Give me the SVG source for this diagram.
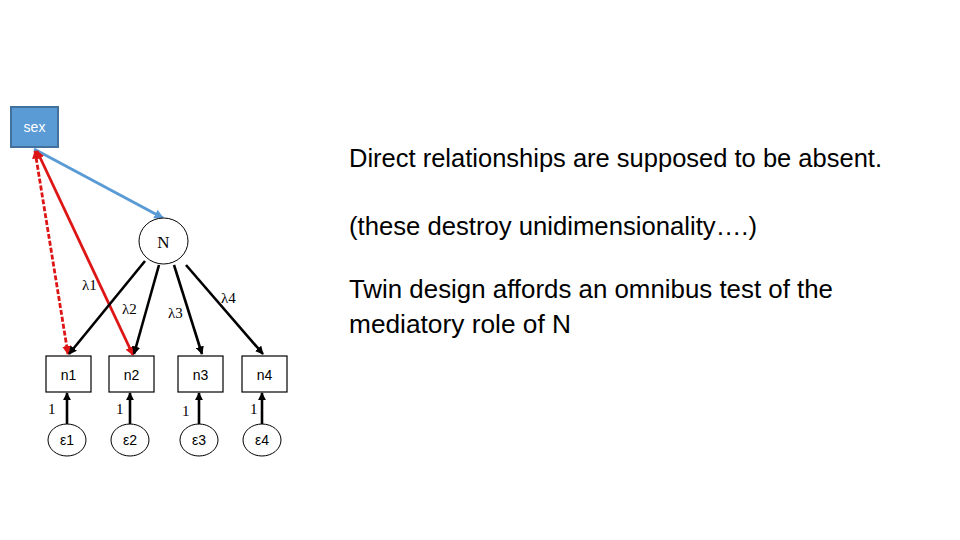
<svg xmlns="http://www.w3.org/2000/svg" width="960" height="540" viewBox="0 0 960 540">
<style>
.box{fill:#fff;stroke:#000;stroke-width:1.2}
.ell{fill:#fff;stroke:#000;stroke-width:1}
.lab{font-family:"Liberation Sans",Arial,sans-serif;font-size:14px;fill:#000;text-anchor:middle}
.ser{font-family:"Liberation Serif","Times New Roman",serif;font-size:15px;fill:#000}
.big{font-family:"Liberation Sans",Arial,sans-serif;font-size:25px;fill:#000}
.blk{stroke:#000;stroke-width:2.6;fill:none;marker-end:url(#ab)}
.red{stroke:#DD1515;stroke-width:2.8;fill:none;marker-end:url(#ar);marker-start:url(#ars)}
</style>
<defs>
<marker id="ab" viewBox="0 0 10 10" refX="9" refY="5" markerWidth="3.2" markerHeight="3.2" orient="auto" markerUnits="strokeWidth"><path d="M0,0 L10,5 L0,10 z" fill="#000"/></marker>
<marker id="ar" viewBox="0 0 10 10" refX="9" refY="5" markerWidth="3.2" markerHeight="3.2" orient="auto" markerUnits="strokeWidth"><path d="M0,0 L10,5 L0,10 z" fill="#DD1515"/></marker>
<marker id="ars" viewBox="0 0 10 10" refX="1" refY="5" markerWidth="3" markerHeight="3" orient="auto" markerUnits="strokeWidth"><path d="M10,0 L0,5 L10,10 z" fill="#DD1515"/></marker>
<marker id="abl" viewBox="0 0 10 10" refX="9" refY="5" markerWidth="3.2" markerHeight="3.2" orient="auto" markerUnits="strokeWidth"><path d="M0,0 L10,5 L0,10 z" fill="#5B9BD5"/></marker>
</defs>
<rect width="960" height="540" fill="#fff"/>

<g id="connectors">
<line x1="34" y1="149" x2="163" y2="218" stroke="#5B9BD5" stroke-width="3" marker-end="url(#abl)"/>
<line class="red" x1="35" y1="151" x2="68" y2="354" stroke-dasharray="5,2"/>
<line class="red" x1="37" y1="151" x2="133" y2="355"/>
<line class="blk" x1="145" y1="261" x2="69" y2="354"/>
<line class="blk" x1="159" y1="265" x2="134" y2="354"/>
<line class="blk" x1="174" y1="265" x2="202" y2="354"/>
<line class="blk" x1="186" y1="265" x2="263" y2="354"/>
<line class="blk" x1="67" y1="424" x2="67" y2="393"/>
<line class="blk" x1="130" y1="424" x2="130" y2="393"/>
<line class="blk" x1="199" y1="424" x2="199" y2="393"/>
<line class="blk" x1="262" y1="424" x2="262" y2="393"/>
<text class="ser" x="82" y="290">λ1</text>
<text class="ser" x="122" y="314">λ2</text>
<text class="ser" x="168" y="318">λ3</text>
<text class="ser" x="221" y="303">λ4</text>
<text class="ser" x="48" y="414">1</text>
<text class="ser" x="116" y="414">1</text>
<text class="ser" x="182" y="416">1</text>
<text class="ser" x="250" y="414">1</text>
</g>

<g id="sex"><rect x="11" y="107" width="47" height="40" fill="#5B9BD5" stroke="#41719C" stroke-width="2"/><text class="lab" x="34.5" y="132" style="fill:#fff">sex</text></g>
<g id="N"><ellipse class="ell" cx="163.5" cy="241" rx="24.5" ry="23"/><text class="ser" x="163.5" y="248" text-anchor="middle" style="font-size:17px">N</text></g>
<g id="n1"><rect class="box" x="46" y="356" width="45" height="36"/><text class="lab" x="68.5" y="380">n1</text></g>
<g id="n2"><rect class="box" x="109" y="356" width="45" height="36"/><text class="lab" x="131.5" y="380">n2</text></g>
<g id="n3"><rect class="box" x="178" y="356" width="45" height="36"/><text class="lab" x="200.5" y="380">n3</text></g>
<g id="n4"><rect class="box" x="242" y="356" width="45" height="36"/><text class="lab" x="264.5" y="380">n4</text></g>
<g id="e1"><ellipse class="ell" cx="67" cy="440" rx="19" ry="16"/><text class="lab" x="67" y="445">ε1</text></g>
<g id="e2"><ellipse class="ell" cx="130" cy="440" rx="19" ry="16"/><text class="lab" x="130" y="445">ε2</text></g>
<g id="e3"><ellipse class="ell" cx="199" cy="440" rx="19" ry="16"/><text class="lab" x="199" y="445">ε3</text></g>
<g id="e4"><ellipse class="ell" cx="262" cy="440" rx="19" ry="16"/><text class="lab" x="262" y="445">ε4</text></g>

<g id="notes">
<text class="big" x="349" y="167" textLength="533" lengthAdjust="spacingAndGlyphs">Direct relationships are supposed to be absent.</text>
<text class="big" x="349" y="235" textLength="408" lengthAdjust="spacingAndGlyphs">(these destroy unidimensionality….)</text>
<text class="big" x="349" y="298" textLength="484" lengthAdjust="spacingAndGlyphs">Twin design affords an omnibus test of the</text>
<text class="big" x="349" y="333" textLength="222" lengthAdjust="spacingAndGlyphs">mediatory role of N</text>
</g>
</svg>
